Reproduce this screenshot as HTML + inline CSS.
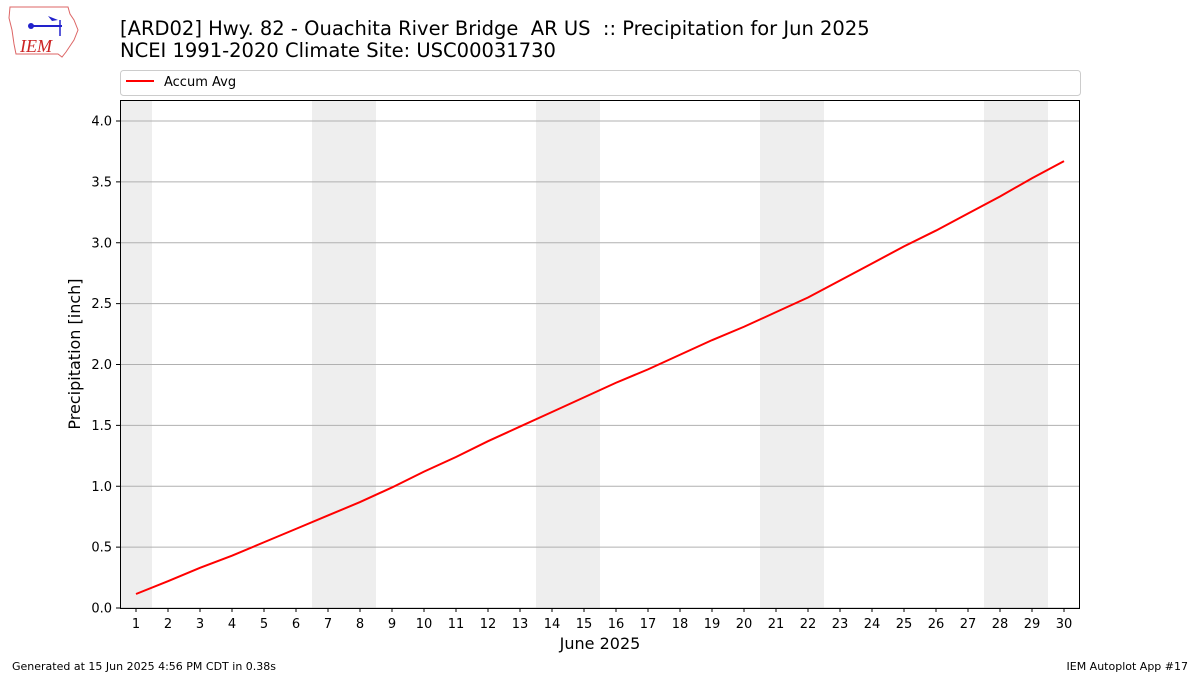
<!DOCTYPE html>
<html><head><meta charset="utf-8"><style>
body{margin:0;background:#fff;font-family:"Liberation Sans","DejaVu Sans",sans-serif;}
.pre{white-space:pre;}
</style></head><body>
<svg id="chart" width="1200" height="675" xmlns="http://www.w3.org/2000/svg" font-family="DejaVu Sans, Liberation Sans, sans-serif">
<g>
<path d="M10,7 L68,7 L70,14 L74,20 L78,30 L74,40 L70,46 L66,52 L62,57 L58,54 L16,54 L14,44 L12,30 L9,18 Z" fill="none" stroke="#d66" stroke-width="1"/>
<line x1="30" y1="26" x2="62" y2="26" stroke="#22c" stroke-width="2"/>
<circle cx="31" cy="26" r="3" fill="#22c"/>
<path d="M48,16 L58,20 L52,21 Z" fill="#22c"/>
<line x1="60" y1="20" x2="60" y2="36" stroke="#22c" stroke-width="1.5"/>
<text x="20" y="52" font-family="Liberation Serif, serif" font-style="italic" font-size="18" fill="#c22">IEM</text>
</g>
<text class="pre" x="120" y="35" font-size="19.5">[ARD02] Hwy. 82 - Ouachita River Bridge  AR US  :: Precipitation for Jun 2025</text>
<text x="120" y="57" font-size="19.5">NCEI 1991-2020 Climate Site: USC00031730</text>
<g>
<rect x="120.5" y="70.5" width="960" height="25" rx="3" fill="#fff" stroke="#ccc"/>
<line x1="126" y1="81" x2="154" y2="81" stroke="red" stroke-width="2"/>
<text x="164" y="86" font-size="13">Accum Avg</text>
</g>
<g id="plot"></g>
<text x="12" y="670" font-size="11">Generated at 15 Jun 2025 4:56 PM CDT in 0.38s</text>
<text x="1188" y="670" font-size="11" text-anchor="end">IEM Autoplot App #17</text>
</svg>
<script>
const days=[1,2,3,4,5,6,7,8,9,10,11,12,13,14,15,16,17,18,19,20,21,22,23,24,25,26,27,28,29,30];
const accumAvg=[0.115,0.22,0.33,0.43,0.54,0.65,0.76,0.87,0.99,1.12,1.24,1.37,1.49,1.61,1.73,1.85,1.96,2.08,2.20,2.31,2.43,2.55,2.69,2.83,2.97,3.10,3.24,3.38,3.53,3.67];
const yTicks=[0,0.5,1,1.5,2,2.5,3,3.5,4];
const weekendStarts=[0.5,6.5,13.5,20.5,27.5];
const weekendEnds=[1.5,8.5,15.5,22.5,29.5];
const L=120,R=1080,T=100,B=608;
const x=d=>L+(d-0.5)*(R-L)/30;
const y=v=>B-v*121.75;
const ns="http://www.w3.org/2000/svg",g=document.getElementById('plot');
function mk(t,a){const e=document.createElementNS(ns,t);for(const k in a)e.setAttribute(k,a[k]);g.appendChild(e);return e;}
weekendStarts.forEach((s,i)=>{const e=mk('rect',{x:x(s),y:T,width:x(weekendEnds[i])-x(s),height:B-T,fill:'#eee'});

});
yTicks.forEach(v=>{const l=mk('line',{x1:L,x2:R,y1:y(v),y2:y(v),stroke:'#b0b0b0','stroke-width':1});


mk('line',{x1:L-4,x2:L,y1:y(v),y2:y(v),stroke:'#000'});
const t=mk('text',{x:L-8,y:y(v)+4.5,'font-size':13,'text-anchor':'end'});t.textContent=v.toFixed(1);

});
days.forEach(d=>{mk('line',{x1:x(d),x2:x(d),y1:B,y2:B+4,stroke:'#000'});
const t=mk('text',{x:x(d),y:B+20,'font-size':13,'text-anchor':'middle'});t.textContent=d;

});
const p=mk('polyline',{points:days.map((d,i)=>x(d)+','+y(accumAvg[i])).join(' '),fill:'none',stroke:'red','stroke-width':2});


const f=mk('rect',{x:L+0.5,y:T+0.5,width:R-L-1,height:B-T,fill:'none',stroke:'#000'});


const xt=mk('text',{x:600,y:649,'font-size':16,'text-anchor':'middle'});xt.textContent='June 2025';


const yt=mk('text',{x:80,y:354,'font-size':16,'text-anchor':'middle',transform:'rotate(-90 80 354)'});yt.textContent='Precipitation [inch]';


</script>
</body></html>
